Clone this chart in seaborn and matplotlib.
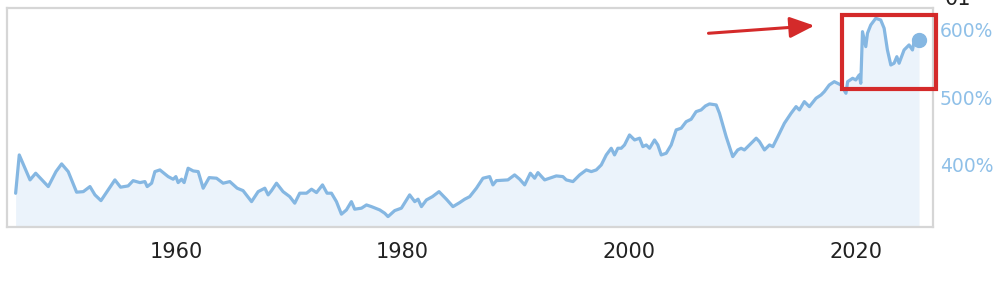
import matplotlib
matplotlib.use("Agg")
import matplotlib.pyplot as plt
from matplotlib.patches import Rectangle
import seaborn as sns
import pandas as pd

# ---- data ----
years = [1945.86, 1946.18, 1947.13, 1947.63, 1948.74, 1949.42, 1949.92, 1950.5, 1951.24, 1951.83,
         1952.42, 1952.86, 1953.39, 1954.03, 1954.62, 1955.12, 1955.79, 1956.23, 1956.83, 1957.27,
         1957.47, 1957.86, 1958.15, 1958.59, 1959.32, 1959.76, 1960.0, 1960.2, 1960.5, 1960.73,
         1961.08, 1961.53, 1961.97, 1962.41, 1962.94, 1963.59, 1964.17, 1964.76, 1965.41, 1965.93,
         1966.68, 1967.26, 1967.85, 1968.14, 1968.44, 1968.88, 1969.46, 1970.05, 1970.49, 1970.93,
         1971.53, 1971.97, 1972.41, 1972.94, 1973.34, 1973.73, 1974.17, 1974.61, 1975.05, 1975.49,
         1975.78, 1976.38, 1976.82, 1977.26, 1977.99, 1978.43, 1978.72, 1979.31, 1979.9, 1980.63,
         1981.08, 1981.37, 1981.67, 1982.11, 1982.64, 1983.22, 1983.87, 1984.45, 1985.04, 1985.49,
         1985.93, 1986.52, 1987.1, 1987.69, 1987.98, 1988.28, 1989.3, 1989.89, 1990.34, 1990.78,
         1991.28, 1991.66, 1991.95, 1992.54, 1992.98, 1993.57, 1994.15, 1994.45, 1995.04, 1995.63,
         1996.22, 1996.66, 1997.1, 1997.54, 1997.98, 1998.42, 1998.71, 1999.0, 1999.3, 1999.59,
         2000.03, 2000.48, 2000.92, 2001.21, 2001.51, 2001.8, 2002.24, 2002.53, 2002.83, 2003.27,
         2003.71, 2004.15, 2004.59, 2005.03, 2005.47, 2005.91, 2006.35, 2006.73, 2007.09, 2007.68,
         2007.97, 2008.56, 2009.14, 2009.58, 2009.88, 2010.17, 2010.47, 2010.91, 2011.21, 2011.5,
         2011.94, 2012.38, 2012.68, 2013.12, 2013.7, 2014.29, 2014.73, 2015.02, 2015.46, 2015.9,
         2016.49, 2016.93, 2017.22, 2017.66, 2018.1, 2018.69, 2019.13, 2019.28, 2019.72, 2020.0,
         2020.3, 2020.44, 2020.59, 2020.88, 2021.03, 2021.32, 2021.76, 2022.2, 2022.5, 2022.79,
         2023.09, 2023.38, 2023.62, 2023.82, 2024.26, 2024.7, 2025.0, 2025.14, 2025.58]
ratio_pct = [358.0, 414.8, 377.8, 387.7, 367.9, 390.1, 401.5, 390.1, 359.6, 360.4,
             367.9, 355.6, 347.1, 363.0, 377.8, 367.0, 368.9, 376.7, 373.8, 375.3,
             367.9, 372.9, 390.1, 392.6, 382.7, 378.8, 382.7, 373.8, 378.8, 373.8,
             395.1, 391.1, 390.1, 365.5, 381.2, 380.3, 372.9, 375.3, 365.5, 361.9,
             345.6, 360.4, 365.5, 355.6, 361.9, 372.9, 360.4, 353.0, 343.3, 358.1,
             358.1, 364.0, 359.0, 370.4, 358.1, 358.1, 345.6, 327.0, 333.3, 345.6,
             334.4, 335.9, 340.7, 338.2, 333.3, 328.4, 323.4, 332.3, 335.9, 355.6,
             345.6, 349.2, 338.2, 348.1, 353.0, 360.4, 349.2, 338.2, 344.1, 349.2,
             353.0, 365.5, 380.3, 382.7, 370.4, 376.7, 377.8, 385.2, 378.8, 370.4,
             387.7, 380.3, 388.6, 377.8, 380.3, 383.7, 382.7, 377.8, 375.3, 385.2,
             392.6, 390.1, 392.6, 400.0, 414.8, 424.7, 414.8, 424.7, 424.7, 429.6,
             444.4, 437.0, 439.6, 427.1, 429.6, 424.7, 437.0, 429.6, 414.8, 417.3,
             429.6, 451.9, 454.4, 464.1, 467.7, 479.0, 481.5, 487.4, 490.4, 488.9,
             476.6, 441.9, 412.3, 422.2, 424.7, 422.2, 427.1, 434.5, 439.6, 434.5,
             422.2, 429.6, 427.1, 441.9, 461.8, 476.6, 486.4, 481.5, 493.8, 486.4,
             498.8, 503.7, 508.6, 518.5, 523.4, 518.5, 506.2, 523.4, 528.4, 525.9,
             533.3, 521.0, 597.5, 575.3, 595.1, 607.4, 617.3, 614.8, 602.5, 570.4,
             548.1, 550.7, 560.4, 550.7, 570.4, 577.8, 570.4, 582.7, 585.2]
x_ticks = [1960, 1980, 2000, 2020]
y_ticks = [400, 500, 600]
y_tick_labels = ["400%", "500%", "600%"]

df = pd.DataFrame({"year": years, "pct": ratio_pct})

LINE = "#85b7e2"
FILL = "#ebf3fb"
RED = "#d42a2a"

sns.set_style("white")
plt.rcParams["font.family"] = ["DejaVu Sans"]

fig = plt.figure(figsize=(10.02, 2.92), dpi=100)
ax = fig.add_axes([0.007, 0.224, 0.924, 0.7496])

ymin, ymax = 308.6, 633.0
ax.fill_between(df["year"], df["pct"], ymin, color=FILL, lw=0, zorder=1)
sns.lineplot(data=df, x="year", y="pct", ax=ax, color=LINE, lw=2.3, zorder=3)
ax.plot(df["year"].iloc[-1], df["pct"].iloc[-1], "o", ms=10, color=LINE, zorder=4)

ax.set_xlim(1945.1, 2026.8)
ax.set_ylim(ymin, ymax)
ax.set_xlabel("")
ax.set_ylabel("")

ax.set_xticks(x_ticks)
ax.set_xticklabels([str(t) for t in x_ticks], fontsize=15, color="#222222")
ax.yaxis.tick_right()
ax.set_yticks(y_ticks)
ax.set_yticklabels(y_tick_labels, fontsize=13.5, color="#8fc0e8")
ax.tick_params(axis="x", length=0, pad=11)
ax.tick_params(axis="y", length=0, pad=5)

for s in ax.spines.values():
    s.set_color("#d6d6d6")
    s.set_linewidth(1.6)

# red highlight box and arrow
rect = Rectangle((2018.77, 512.6), 2027.06 - 2018.77, 622.2 - 512.6,
                 fill=False, edgecolor=RED, lw=3, clip_on=False, zorder=5)
ax.add_patch(rect)
ax.annotate("", xy=(2016.35, 606.4), xytext=(2007.0, 595.1),
            arrowprops=dict(arrowstyle="-|>,head_length=0.75,head_width=0.32",
                            mutation_scale=20, lw=2.2, color=RED,
                            shrinkA=0, shrinkB=0),
            annotation_clip=False, zorder=5)

# cut-off label at the very top right
fig.text(0.943, 0.983, "01", fontsize=15, color="#222222", ha="left", va="baseline")

fig.savefig("out.png", dpi=100)
